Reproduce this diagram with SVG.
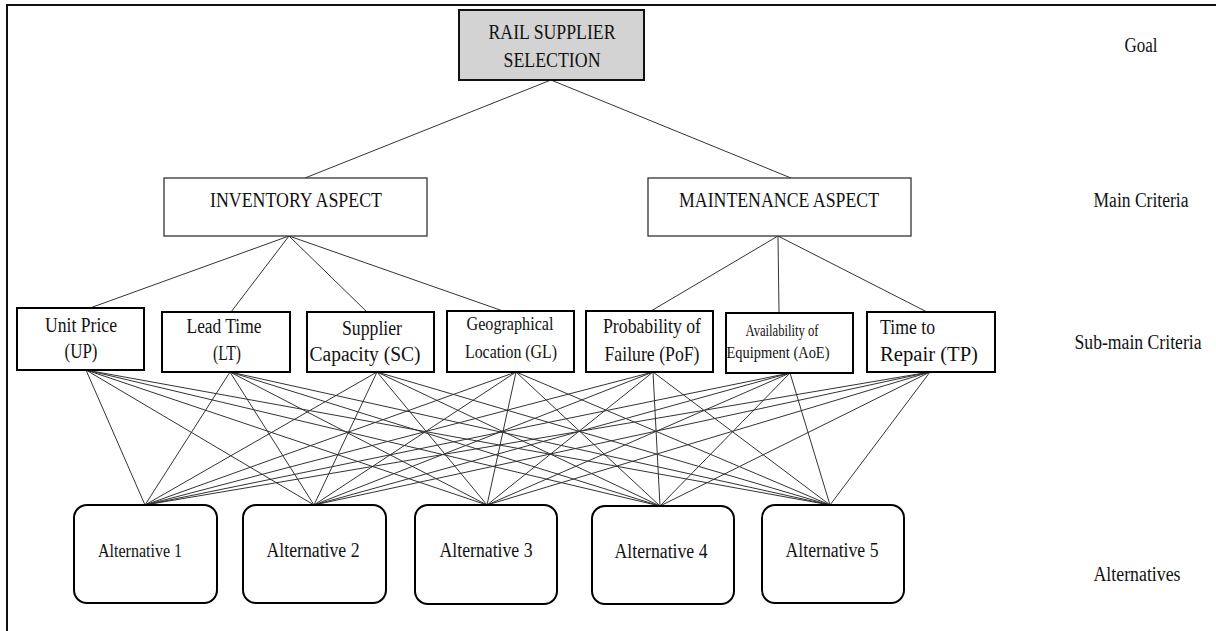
<svg xmlns="http://www.w3.org/2000/svg" width="1216" height="631" viewBox="0 0 1216 631">
<style>
text{font-family:"Liberation Serif","Times New Roman",serif;fill:#111;text-anchor:middle}
.goal{fill:#d3d3d3;stroke:#111;stroke-width:2}
.main{fill:#fff;stroke:#333;stroke-width:1.3}
.sub{fill:#fff;stroke:#000;stroke-width:2}
.alt{fill:#fff;stroke:#000;stroke-width:2}
.conn line{stroke:#333;stroke-width:1}
.lbl{font-size:20px}
.st{text-anchor:start}
</style>
<rect width="1216" height="631" fill="#fff"/>
<path d="M7,631 V5 H1216" fill="none" stroke="#111" stroke-width="2"/>

<g id="connectors" class="conn">
  <line x1="551" y1="80" x2="305" y2="178"/>
  <line x1="551" y1="80" x2="791" y2="178"/>
  <line x1="289" y1="236" x2="90" y2="308"/>
  <line x1="289" y1="236" x2="231" y2="312"/>
  <line x1="289" y1="236" x2="367" y2="312"/>
  <line x1="289" y1="236" x2="503" y2="311"/>
  <line x1="778" y1="236" x2="651" y2="311"/>
  <line x1="778" y1="236" x2="779" y2="313"/>
  <line x1="778" y1="236" x2="927" y2="312"/>
  <!-- UP -->
  <line x1="86" y1="370" x2="145" y2="505"/>
  <line x1="86" y1="370" x2="314" y2="505"/>
  <line x1="86" y1="370" x2="487" y2="505"/>
  <line x1="86" y1="370" x2="660" y2="506"/>
  <line x1="86" y1="370" x2="830" y2="505"/>
  <!-- LT -->
  <line x1="230" y1="372" x2="145" y2="505"/>
  <line x1="230" y1="372" x2="314" y2="505"/>
  <line x1="230" y1="372" x2="487" y2="505"/>
  <line x1="230" y1="372" x2="660" y2="506"/>
  <line x1="230" y1="372" x2="830" y2="505"/>
  <!-- SC -->
  <line x1="377" y1="372" x2="145" y2="505"/>
  <line x1="377" y1="372" x2="314" y2="505"/>
  <line x1="377" y1="372" x2="487" y2="505"/>
  <line x1="377" y1="372" x2="660" y2="506"/>
  <line x1="377" y1="372" x2="830" y2="505"/>
  <!-- GL -->
  <line x1="516" y1="372" x2="145" y2="505"/>
  <line x1="516" y1="372" x2="314" y2="505"/>
  <line x1="516" y1="372" x2="487" y2="505"/>
  <line x1="516" y1="372" x2="660" y2="506"/>
  <line x1="516" y1="372" x2="830" y2="505"/>
  <!-- PoF -->
  <line x1="653" y1="372" x2="145" y2="505"/>
  <line x1="653" y1="372" x2="314" y2="505"/>
  <line x1="653" y1="372" x2="487" y2="505"/>
  <line x1="653" y1="372" x2="660" y2="506"/>
  <line x1="653" y1="372" x2="830" y2="505"/>
  <!-- AoE -->
  <line x1="790" y1="373" x2="145" y2="505"/>
  <line x1="790" y1="373" x2="314" y2="505"/>
  <line x1="790" y1="373" x2="487" y2="505"/>
  <line x1="790" y1="373" x2="660" y2="506"/>
  <line x1="790" y1="373" x2="830" y2="505"/>
  <!-- TP -->
  <line x1="930" y1="372" x2="145" y2="505"/>
  <line x1="930" y1="372" x2="314" y2="505"/>
  <line x1="930" y1="372" x2="487" y2="505"/>
  <line x1="930" y1="372" x2="660" y2="506"/>
  <line x1="930" y1="372" x2="830" y2="505"/>
</g>

<g id="goal">
  <rect class="goal" x="459" y="10" width="185" height="70"/>
  <text x="552" y="39" font-size="21" textLength="127" lengthAdjust="spacingAndGlyphs">RAIL SUPPLIER</text>
  <text x="552" y="67" font-size="21" textLength="97" lengthAdjust="spacingAndGlyphs">SELECTION</text>
</g>

<g id="inventory">
  <rect class="main" x="164" y="178" width="263" height="58"/>
  <text x="296" y="207" font-size="20" textLength="172" lengthAdjust="spacingAndGlyphs">INVENTORY ASPECT</text>
</g>
<g id="maintenance">
  <rect class="main" x="648" y="178" width="263" height="58"/>
  <text x="779" y="207" font-size="20" textLength="200" lengthAdjust="spacingAndGlyphs">MAINTENANCE ASPECT</text>
</g>

<g id="up">
  <rect class="sub" x="17" y="308" width="127" height="62"/>
  <text x="81" y="332" font-size="20" textLength="72" lengthAdjust="spacingAndGlyphs">Unit Price</text>
  <text x="81" y="358" font-size="20" textLength="33" lengthAdjust="spacingAndGlyphs">(UP)</text>
</g>
<g id="lt">
  <rect class="sub" x="162" y="312" width="128" height="60"/>
  <text x="224" y="333" font-size="20" textLength="75" lengthAdjust="spacingAndGlyphs">Lead Time</text>
  <text x="227" y="360" font-size="20" textLength="28" lengthAdjust="spacingAndGlyphs">(LT)</text>
</g>
<g id="sc">
  <rect class="sub" x="307" y="312" width="127" height="60"/>
  <text x="372" y="335" font-size="20" textLength="60" lengthAdjust="spacingAndGlyphs">Supplier</text>
  <text x="365" y="361" font-size="20" textLength="111" lengthAdjust="spacingAndGlyphs">Capacity (SC)</text>
</g>
<g id="gl">
  <rect class="sub" x="447" y="311" width="127" height="61"/>
  <text x="510" y="330" font-size="18" textLength="87" lengthAdjust="spacingAndGlyphs">Geographical</text>
  <text x="511" y="358" font-size="18" textLength="92" lengthAdjust="spacingAndGlyphs">Location (GL)</text>
</g>
<g id="pof">
  <rect class="sub" x="586" y="311" width="127" height="61"/>
  <text x="652" y="333" font-size="21" textLength="98" lengthAdjust="spacingAndGlyphs">Probability of</text>
  <text x="652" y="361" font-size="21" textLength="95" lengthAdjust="spacingAndGlyphs">Failure (PoF)</text>
</g>
<g id="aoe">
  <rect class="sub" x="726" y="313" width="127" height="60"/>
  <text x="782" y="336" font-size="16" textLength="73" lengthAdjust="spacingAndGlyphs">Availability of</text>
  <text x="778" y="358" font-size="16" textLength="103" lengthAdjust="spacingAndGlyphs">Equipment (AoE)</text>
</g>
<g id="tp">
  <rect class="sub" x="867" y="312" width="128" height="60"/>
  <text class="st" x="880" y="334" font-size="20" textLength="55" lengthAdjust="spacingAndGlyphs">Time to</text>
  <text class="st" x="880" y="361" font-size="20" textLength="98" lengthAdjust="spacingAndGlyphs">Repair (TP)</text>
</g>

<g id="alt1">
  <rect class="alt" x="74" y="505" width="143" height="98" rx="13"/>
  <text x="140" y="557" font-size="19" textLength="84" lengthAdjust="spacingAndGlyphs">Alternative 1</text>
</g>
<g id="alt2">
  <rect class="alt" x="243" y="505" width="143" height="98" rx="13"/>
  <text x="313" y="557" font-size="20" textLength="93" lengthAdjust="spacingAndGlyphs">Alternative 2</text>
</g>
<g id="alt3">
  <rect class="alt" x="415" y="505" width="142" height="99" rx="13"/>
  <text x="486" y="557" font-size="20" textLength="93" lengthAdjust="spacingAndGlyphs">Alternative 3</text>
</g>
<g id="alt4">
  <rect class="alt" x="592" y="506" width="142" height="98" rx="13"/>
  <text x="661" y="558" font-size="20" textLength="93" lengthAdjust="spacingAndGlyphs">Alternative 4</text>
</g>
<g id="alt5">
  <rect class="alt" x="762" y="505" width="142" height="98" rx="13"/>
  <text x="832" y="557" font-size="20" textLength="93" lengthAdjust="spacingAndGlyphs">Alternative 5</text>
</g>

<g id="levels">
  <text class="lbl" x="1141" y="52" textLength="33" lengthAdjust="spacingAndGlyphs">Goal</text>
  <text class="lbl" x="1141" y="207" textLength="95" lengthAdjust="spacingAndGlyphs">Main Criteria</text>
  <text class="lbl" x="1138" y="349" textLength="127" lengthAdjust="spacingAndGlyphs">Sub-main Criteria</text>
  <text class="lbl" x="1137" y="581" textLength="87" lengthAdjust="spacingAndGlyphs">Alternatives</text>
</g>
</svg>
